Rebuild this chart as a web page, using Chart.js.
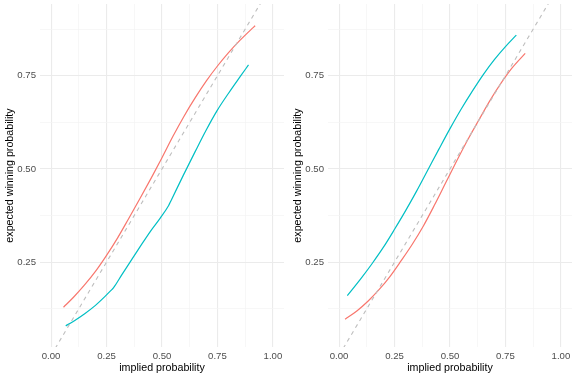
<!DOCTYPE html>
<html>
<head>
<meta charset="utf-8">
<script src="https://cdn.jsdelivr.net/npm/chart.js@4"></script>
<style>
  html, body { margin: 0; padding: 0; background: #fff; }
  #wrap { position: relative; width: 577px; height: 379px; }
  .panel { position: absolute; top: 0; height: 379px; }
</style>
</head>
<body>
<div id="wrap">
  <div class="panel" style="left:0;width:288px"><canvas id="leftChart"></canvas></div>
  <div class="panel" style="left:288px;width:289px"><canvas id="rightChart"></canvas></div>
</div>
<script>
// values
var leftRedX  = [0.056, 0.10, 0.15, 0.20, 0.25, 0.30, 0.35, 0.40, 0.45, 0.50, 0.55, 0.60, 0.65, 0.70, 0.75, 0.80, 0.85, 0.90, 0.92];
var leftRedY  = [0.129, 0.155, 0.188, 0.225, 0.268, 0.315, 0.367, 0.420, 0.474, 0.530, 0.588, 0.642, 0.691, 0.736, 0.776, 0.812, 0.844, 0.873, 0.884];
var leftTealX = [0.066, 0.10, 0.15, 0.20, 0.25, 0.275, 0.28, 0.32, 0.356, 0.40, 0.447, 0.492, 0.53, 0.54, 0.597, 0.65, 0.70, 0.747, 0.80, 0.853, 0.89];
var leftTealY = [0.079, 0.091, 0.111, 0.134, 0.162, 0.177, 0.180, 0.217, 0.250, 0.290, 0.332, 0.368, 0.402, 0.414, 0.484, 0.547, 0.605, 0.655, 0.703, 0.748, 0.779];

var rightRedX  = [0.027, 0.08, 0.13, 0.18, 0.23, 0.28, 0.33, 0.38, 0.43, 0.48, 0.53, 0.58, 0.63, 0.68, 0.73, 0.78, 0.839];
var rightRedY  = [0.097, 0.119, 0.145, 0.176, 0.212, 0.254, 0.298, 0.347, 0.403, 0.462, 0.521, 0.578, 0.631, 0.683, 0.730, 0.771, 0.810];
var rightTealX = [0.037, 0.10, 0.15, 0.20, 0.25, 0.30, 0.35, 0.40, 0.45, 0.50, 0.55, 0.60, 0.65, 0.70, 0.75, 0.799];
var rightTealY = [0.160, 0.207, 0.247, 0.290, 0.338, 0.388, 0.441, 0.497, 0.553, 0.608, 0.660, 0.708, 0.753, 0.793, 0.828, 0.859];

var diagonal = [0, 1];
var xTicks = [0, 0.125, 0.25, 0.375, 0.5, 0.625, 0.75, 0.875, 1];
var yTicks = [0.125, 0.25, 0.375, 0.5, 0.625, 0.75, 0.875];
var xLabelTicks = [0, 0.25, 0.5, 0.75, 1];
var yLabelTicks = [0.25, 0.5, 0.75];

function pts(xs, ys) {
    return xs.map(function (x, i) { return {x: x, y: ys[i]}; });
}

function isMajor(v, list) {
    return list.some(function (m) { return Math.abs(m - v) < 1e-6; });
}

function makeChart(id, redX, redY, tealX, tealY, padRight) {
    var ctx = document.getElementById(id);
    return new Chart(ctx, {
        type: 'scatter',
        data: {
            datasets: [{
                data: pts(diagonal, diagonal),
                showLine: true,
                borderColor: '#BEBEBE',
                borderWidth: 1.1,
                borderDash: [4, 4],
                pointRadius: 0
            }, {
                data: pts(tealX, tealY),
                showLine: true,
                borderColor: '#00BFC4',
                borderWidth: 1.2,
                pointRadius: 0,
                cubicInterpolationMode: 'monotone'
            }, {
                data: pts(redX, redY),
                showLine: true,
                borderColor: '#F8766D',
                borderWidth: 1.2,
                pointRadius: 0,
                cubicInterpolationMode: 'monotone'
            }]
        },
        options: {
            responsive: true,
            maintainAspectRatio: false,
            animation: false,
            events: [],
            layout: { padding: { top: 4, right: padRight, left: 0, bottom: 0 } },
            plugins: { legend: { display: false }, tooltip: { enabled: false } },
            scales: {
                x: {
                    type: 'linear',
                    min: -0.05,
                    max: 1.05,
                    afterBuildTicks: function (axis) {
                        axis.ticks = xTicks.map(function (v) { return {value: v}; });
                    },
                    afterFit: function (axis) {
                        axis.height = 32;
                        axis.paddingLeft = 0;
                        axis.paddingRight = 0;
                    },
                    border: { display: false },
                    grid: {
                        drawTicks: false,
                        color: function (c) { return c.tick && isMajor(c.tick.value, xLabelTicks) ? '#EBEBEB' : '#F3F3F3'; },
                        lineWidth: function (c) { return c.tick && isMajor(c.tick.value, xLabelTicks) ? 1.1 : 0.7; }
                    },
                    ticks: {
                        autoSkip: false,
                        maxRotation: 0,
                        padding: 4,
                        color: '#4D4D4D',
                        font: { family: 'Liberation Sans', size: 9.6 },
                        callback: function (v) { return isMajor(v, xLabelTicks) ? v.toFixed(2) : ''; }
                    },
                    title: {
                        display: true,
                        text: 'implied probability',
                        color: '#000',
                        font: { family: 'Liberation Sans', size: 10.7 },
                        padding: { top: 0, bottom: 5 }
                    }
                },
                y: {
                    type: 'linear',
                    min: 0.0223,
                    max: 0.9423,
                    afterBuildTicks: function (axis) {
                        axis.ticks = yTicks.map(function (v) { return {value: v}; });
                    },
                    afterFit: function (axis) {
                        axis.width = 40;
                        axis.paddingTop = 0;
                        axis.paddingBottom = 0;
                    },
                    border: { display: false },
                    grid: {
                        drawTicks: false,
                        color: function (c) { return c.tick && isMajor(c.tick.value, yLabelTicks) ? '#EBEBEB' : '#F3F3F3'; },
                        lineWidth: function (c) { return c.tick && isMajor(c.tick.value, yLabelTicks) ? 1.1 : 0.7; }
                    },
                    ticks: {
                        autoSkip: false,
                        padding: 4,
                        color: '#4D4D4D',
                        font: { family: 'Liberation Sans', size: 9.6 },
                        callback: function (v) { return isMajor(v, yLabelTicks) ? v.toFixed(2) : ''; }
                    },
                    title: {
                        display: true,
                        text: 'expected winning probability',
                        color: '#000',
                        font: { family: 'Liberation Sans', size: 10.7 },
                        padding: { top: 4, bottom: 0 }
                    }
                }
            }
        }
    });
}

makeChart('leftChart', leftRedX, leftRedY, leftTealX, leftTealY, 4);
makeChart('rightChart', rightRedX, rightRedY, rightTealX, rightTealY, 5);
</script>
</body>
</html>
